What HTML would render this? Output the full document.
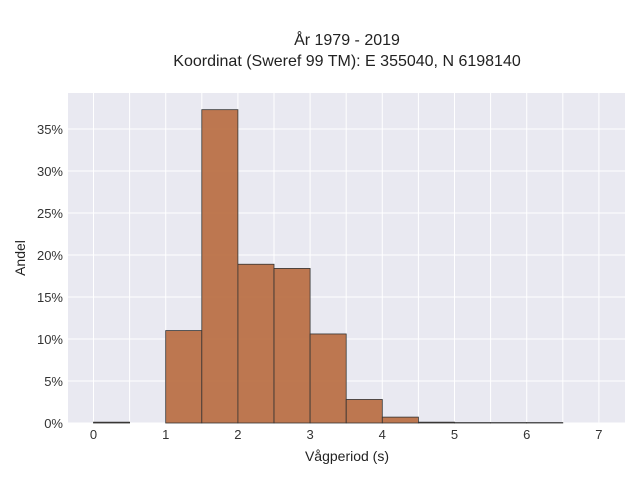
<!DOCTYPE html>
<html><head><meta charset="utf-8"><style>
body{margin:0;background:#fff;}
svg{font-family:"Liberation Sans",sans-serif;}
</style></head><body>
<svg width="640" height="480">
<text x="347" y="45" text-anchor="middle" font-size="16" fill="#222">År 1979 - 2019</text>
<text x="347" y="66" text-anchor="middle" font-size="16" fill="#222">Koordinat (Sweref 99 TM): E 355040, N 6198140</text>
<rect x="68" y="93" width="557" height="330" fill="#e9e9f1"/>
<g id="grid"></g><g id="bars"></g><g id="ticks"></g>
<text x="347" y="461" text-anchor="middle" font-size="14" fill="#222">Vågperiod (s)</text>
<text transform="translate(25,258) rotate(-90)" text-anchor="middle" font-size="14" fill="#222">Andel</text>
</svg>
<script>
const binStarts=[0,0.5,1,1.5,2,2.5,3,3.5,4,4.5,5,5.5,6];
const shares=[0.1,0,11.0,37.3,18.9,18.4,10.6,2.8,0.7,0.1,0.05,0.05,0.05];
const xTicks=[0,1,2,3,4,5,6,7];
const yTicks=[0,5,10,15,20,25,30,35];
const binWidth=0.5;
const NS="http://www.w3.org/2000/svg";
const xs=v=>93.5+v*72.2;
const ys=v=>423-v*8.4;
function mk(t,a,p){const e=document.createElementNS(NS,t);for(const k in a)e.setAttribute(k,a[k]);p.appendChild(e);return e;}
const grid=document.getElementById('grid'),bars=document.getElementById('bars'),ticks=document.getElementById('ticks');
for(let v=0;v<=7;v+=0.5){const l=mk('line',{x1:xs(v),x2:xs(v),y1:93,y2:423,stroke:'#fff','stroke-width':1},grid);

}
yTicks.forEach(v=>{const l=mk('line',{x1:68,x2:625,y1:ys(v),y2:ys(v),stroke:'#fff','stroke-width':1},grid);


const t=mk('text',{x:63,y:ys(v)+5,'text-anchor':'end','font-size':13,fill:'#333'},ticks);t.textContent=v+'%';

});
xTicks.forEach(v=>{const t=mk('text',{x:xs(v),y:439,'text-anchor':'middle','font-size':13,fill:'#333'},ticks);t.textContent=v;

});
binStarts.forEach((b,i)=>{if(shares[i]<=0)return;const r=mk('rect',{x:xs(b),y:ys(shares[i]),width:xs(b+binWidth)-xs(b),height:ys(0)-ys(shares[i]),fill:'#b86a3e','fill-opacity':0.9,stroke:'#333','stroke-width':0.8},bars);

});
</script>
</body></html>
